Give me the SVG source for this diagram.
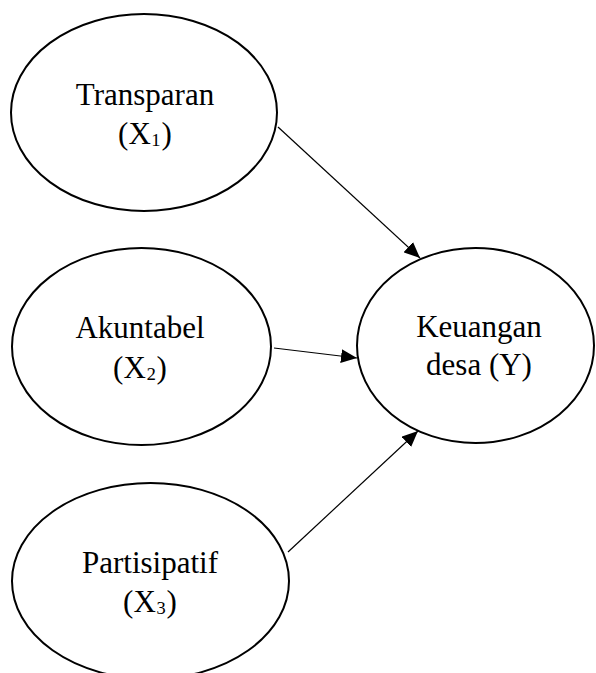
<svg xmlns="http://www.w3.org/2000/svg" width="596" height="673" viewBox="0 0 596 673">
<style>
.node{fill:#fff;stroke:#000;stroke-width:2}
.lbl{font-family:"Liberation Serif","Times New Roman",serif;font-size:31px;fill:#000;text-anchor:middle}
.edge{stroke:#000;stroke-width:1.2;fill:none;marker-end:url(#arr)}
</style>
<defs>
<marker id="arr" markerUnits="userSpaceOnUse" markerWidth="17" markerHeight="14" refX="16" refY="7" orient="auto">
<path d="M0,0 L16,7 L0,14 Z" fill="#000"/>
</marker>
</defs>
<rect width="596" height="673" fill="#fff"/>
<g id="n-transparan">
<ellipse class="node" cx="144" cy="112.5" rx="133" ry="98.5"/>
<text class="lbl" x="145" y="105">Transparan</text>
<text class="lbl" x="145" y="144">(X<tspan dy="-4">₁</tspan><tspan dy="4">)</tspan></text>
</g>
<g id="n-akuntabel">
<ellipse class="node" cx="141.5" cy="346.5" rx="129.5" ry="98.5"/>
<text class="lbl" x="140" y="338">Akuntabel</text>
<text class="lbl" x="140" y="378">(X<tspan dy="-4">₂</tspan><tspan dy="4">)</tspan></text>
</g>
<g id="n-partisipatif">
<ellipse class="node" cx="150.5" cy="581" rx="138.5" ry="98"/>
<text class="lbl" x="150" y="573">Partisipatif</text>
<text class="lbl" x="150" y="612">(X<tspan dy="-4">₃</tspan><tspan dy="4">)</tspan></text>
</g>
<g id="n-keuangan">
<ellipse class="node" cx="475.5" cy="345.5" rx="118.5" ry="97.5"/>
<text class="lbl" x="479" y="337">Keuangan</text>
<text class="lbl" x="479" y="375">desa (Y)</text>
</g>
<g id="connectors">
<line class="edge" x1="278" y1="127" x2="420" y2="258"/>
<line class="edge" x1="274" y1="348" x2="357" y2="358"/>
<line class="edge" x1="288" y1="552" x2="418" y2="431"/>
</g>
</svg>
